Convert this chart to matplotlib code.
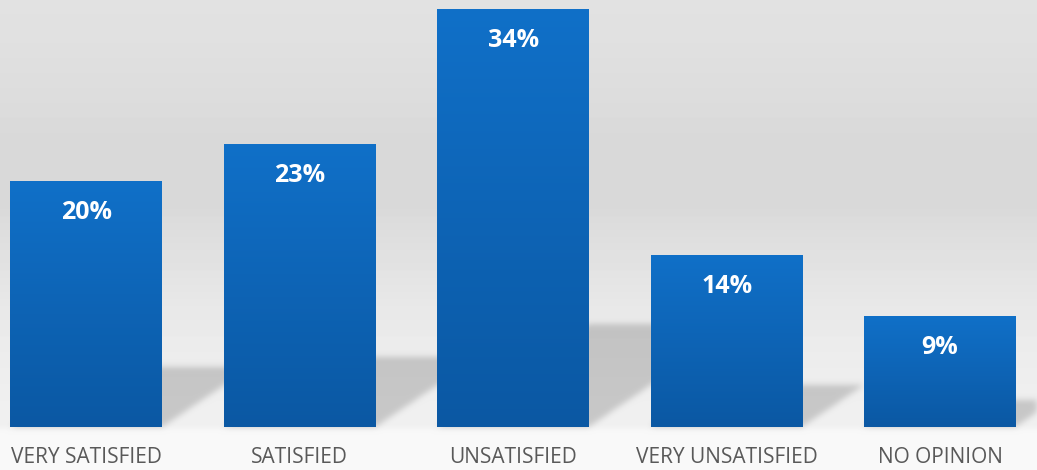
import numpy as np
import matplotlib
matplotlib.use("Agg")
import matplotlib.pyplot as plt
from matplotlib.colors import LinearSegmentedColormap

categories = ["VERY SATISFIED", "SATISFIED", "UNSATISFIED", "VERY UNSATISFIED", "NO OPINION"]
values = [20, 23, 34, 14, 9]

W, H = 1037, 470
fig = plt.figure(figsize=(W / 100, H / 100), dpi=100)
ax = fig.add_axes([0, 0, 1, 1])
x0, x1 = -0.405, 4.454
y0, y1 = -3.5, 34.75
ax.set_xlim(x0, x1)
ax.set_ylim(y0, y1)
ax.axis("off")

x = np.arange(len(values))
bw = 0.712

# background: soft grey wall fading into a white floor
X, Y = np.meshgrid(np.linspace(x0, x1, W), np.linspace(y1, y0, H))
frac = np.linspace(0, 1, H)
wall = np.interp(frac, [0, 0.32, 0.43, 0.53, 0.68, 0.85, 0.905, 0.92, 1.0],
                 [227, 217, 217, 224, 234, 239, 240, 248, 249]) / 255.0
bg = np.repeat(wall[:, None], W, axis=1)

# floor shadows cast to the right of every bar
shear = 0.085
mask = np.zeros_like(X)
for xi, v in zip(x, values):
    top = 0.245 * v
    m = (Y >= 0) & (Y <= top) & (X >= xi - bw / 2 + shear * Y) & (X <= xi + bw / 2 + shear * Y)
    mask[m] = 1.0
k = np.exp(-0.5 * (np.arange(-9, 10) / 3.0) ** 2)
k /= k.sum()
mask = np.apply_along_axis(lambda r: np.convolve(r, k, mode="same"), 1, mask)
mask = np.apply_along_axis(lambda c: np.convolve(c, k, mode="same"), 0, mask)
img = bg * (1 - 0.17 * mask)
ax.imshow(img, cmap="gray", vmin=0, vmax=1, extent=[x0, x1, y0, y1],
          aspect="auto", interpolation="bilinear", zorder=0)

# bars with a vertical blue gradient
blue = LinearSegmentedColormap.from_list("bar", ["#0b58a3", "#1070c8"])
grad = np.linspace(0, 1, 256)[::-1, None]
bars = ax.bar(x, values, width=bw, color="#0e64b4", zorder=2, linewidth=0)
for b, v in zip(bars, values):
    im = ax.imshow(grad, cmap=blue, extent=[b.get_x(), b.get_x() + bw, 0, v],
                   aspect="auto", zorder=3)
    im.set_clip_path(b)
    ax.text(b.get_x() + bw / 2, v - 2.55, f"{v}%", ha="center", va="center",
            color="white", fontsize=18, fontweight="bold", family="Open Sans", zorder=4)

for xi, c in zip(x, categories):
    ax.text(xi, -2.5, c, ha="center", va="center", color="#595959",
            fontsize=15, family="Open Sans", zorder=4)

ax.set_xlim(x0, x1)
ax.set_ylim(y0, y1)
fig.savefig("out.png", dpi=100)
